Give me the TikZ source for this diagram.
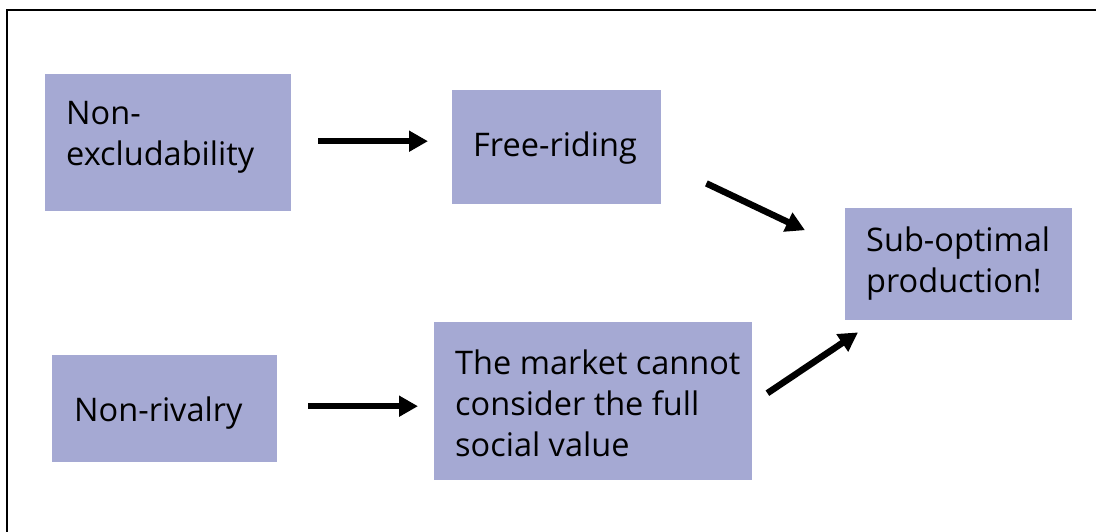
\documentclass[tikz,border=0pt]{standalone}
\usepackage{fontspec}
\setmainfont{Open Sans}
\usetikzlibrary{arrows.meta,calc}
\definecolor{boxblue}{RGB}{165,169,211}
\begin{document}
\begin{tikzpicture}[x=1pt,y=-1pt,
  box/.style={fill=boxblue,draw=none,anchor=north west,inner sep=0pt},
  txt/.style={anchor=west,align=left,inner sep=0pt,font=\fontsize{32.5}{41}\selectfont},
  arr/.style={line width=6.5pt,-{Triangle[length=19pt,width=20pt]}}]
\useasboundingbox (0,0) rectangle (1096,532);
% partial frame
\draw[line width=2pt] (7,540) -- (7,10) -- (1100,10);
% boxes
\node[box,minimum width=246pt,minimum height=137pt] (b1) at (45,74) {};
\node[box,minimum width=209pt,minimum height=114pt] (b2) at (452,90) {};
\node[box,minimum width=227pt,minimum height=112pt] (b3) at (845,208) {};
\node[box,minimum width=225pt,minimum height=107pt] (b4) at (52,355) {};
\node[box,minimum width=318pt,minimum height=158pt] (b5) at (434,322) {};
% texts
\node[txt] (t1) at (66,137) {Non-\\excludability};
\node[txt] (t2) at (473,148) {Free-riding};
\node[txt] (t3) at (866,264) {Sub-optimal\\production!};
\node[txt] (t4) at (74,413) {Non-rivalry};
\node[txt] (t5) at (455,403) {The market cannot\\consider the full\\social value};
% arrows
\draw[arr] ($(b1.east)+(27,-1.5)$) -- ($(b2.west)+(-24,-6)$);
\draw[arr] ($(b2.south east)+(45,-21)$) -- ($(b3.west)+(-40,-34)$);
\draw[arr] ($(b5.east)+(15,-8)$) -- ($(b3.south west)+(13,12)$);
\draw[arr] ($(b4.east)+(31,-2.5)$) -- ($(b5.west)+(-16,5)$);
\end{tikzpicture}
\end{document}
